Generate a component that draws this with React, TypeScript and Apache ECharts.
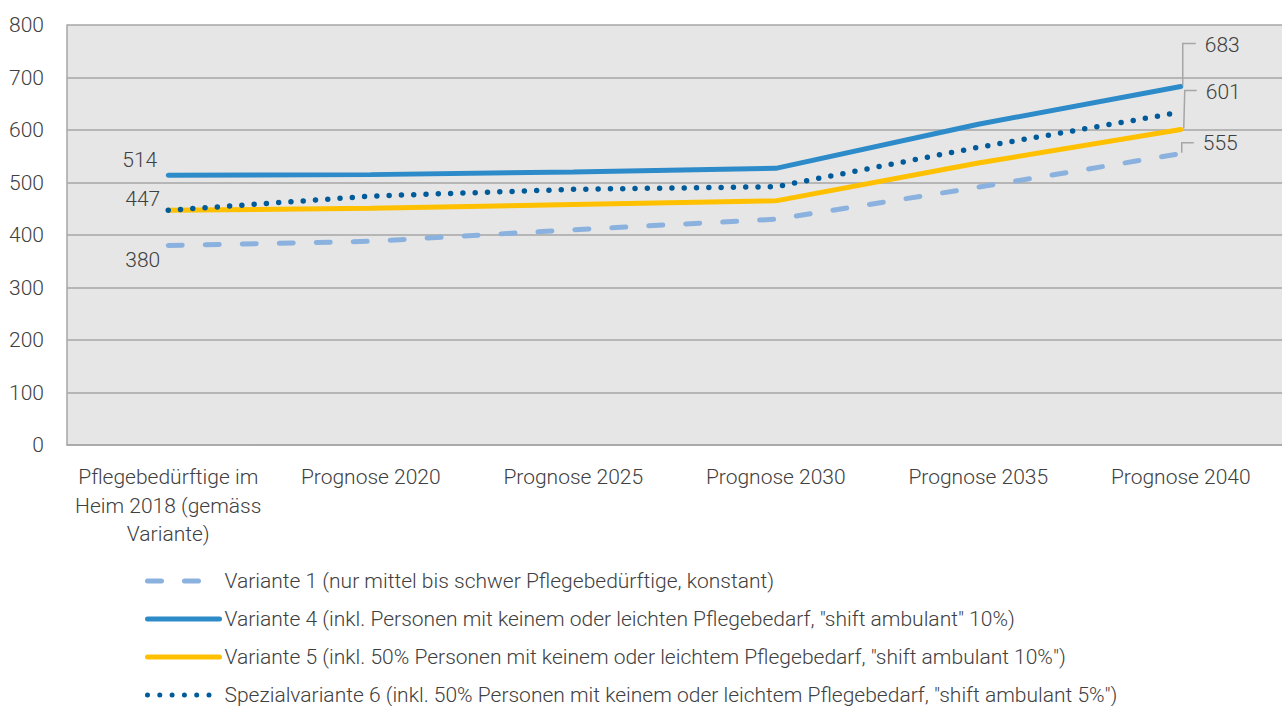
import React, { useEffect, useRef } from "react";
import * as echarts from "echarts";

const categories = [
  "Pflegebedürftige im\nHeim 2018 (gemäss\nVariante)",
  "Prognose 2020",
  "Prognose 2025",
  "Prognose 2030",
  "Prognose 2035",
  "Prognose 2040",
];

const seriesNames = [
  "Variante 1 (nur mittel bis schwer Pflegebedürftige, konstant)",
  'Variante 4 (inkl. Personen mit keinem oder leichten Pflegebedarf, "shift ambulant" 10%)',
  'Variante 5 (inkl. 50% Personen mit keinem oder leichtem Pflegebedarf, "shift ambulant 10%")',
  'Spezialvariante 6 (inkl. 50% Personen mit keinem oder leichtem Pflegebedarf, "shift ambulant 5%")',
];

const variante1 = [380, 388, 410, 430, 491, 555];
const variante4 = [514, 515, 520, 527, 611, 683];
const variante5 = [447, 451, 458, 465, 537, 601];
const spezial6 = [447, 474, 487, 492, 567, 634];

const yMin = 0;
const yMax = 800;
const yInterval = 100;

const FONT = "Roboto";
const FS = 21;
const TEXT_COLOR = "#404040";
const GRID_COLOR = "#a6a6a6";
const LEGEND_ROW_CENTERS = [581, 619, 657, 695];

export default function App() {
  const ref = useRef<HTMLDivElement>(null);

  useEffect(() => {
    document.body.style.margin = "0";
    if (!ref.current) return;
    const chart = echarts.init(ref.current, undefined, { renderer: "svg" });

    const legends = seriesNames.map((name, i) => ({
      orient: "vertical",
      left: 145,
      top: LEGEND_ROW_CENTERS[i] - 10.5,
      padding: 0,
      itemWidth: 72,
      itemHeight: 18,
      itemStyle: { opacity: 0, borderWidth: 0 },
      lineStyle: { width: 5 },
      textStyle: {
        fontFamily: FONT,
        fontWeight: 300,
        fontSize: FS,
        color: TEXT_COLOR,
      },
      data: [name],
    }));

    const option: any = {
      animation: false,
      textStyle: { fontFamily: FONT, fontWeight: 300 },
      grid: {
        left: 67,
        right: 0,
        top: 25,
        bottom: 261,
        show: true,
        backgroundColor: "#e6e6e6",
        borderWidth: 0,
        outerBoundsMode: "none",
      },
      legend: legends,
      xAxis: {
        type: "category",
        data: categories,
        boundaryGap: true,
        axisLine: { show: true, lineStyle: { color: GRID_COLOR, width: 1.5 } },
        axisTick: { show: false },
        axisLabel: {
          fontFamily: FONT,
          fontWeight: 300,
          fontSize: FS,
          lineHeight: 28.5,
          color: TEXT_COLOR,
          margin: 18,
          interval: 0,
        },
      },
      yAxis: {
        type: "value",
        min: yMin,
        max: yMax,
        interval: yInterval,
        axisLine: { show: true, lineStyle: { color: GRID_COLOR, width: 1.5 } },
        axisTick: { show: false },
        splitLine: { show: true, lineStyle: { color: GRID_COLOR, width: 1.5 } },
        axisLabel: {
          fontFamily: FONT,
          fontWeight: 300,
          fontSize: FS,
          color: TEXT_COLOR,
          margin: 23,
        },
      },
      series: [
        {
          name: seriesNames[0],
          type: "line",
          data: variante1,
          symbol: "none",
          lineStyle: { color: "#8bb2de", width: 5, type: [14, 23], cap: "round" },
          itemStyle: { color: "#8bb2de" },
        },
        {
          name: seriesNames[1],
          type: "line",
          data: variante4,
          symbol: "none",
          lineStyle: { color: "#2e8bc9", width: 5, cap: "round" },
          itemStyle: { color: "#2e8bc9" },
        },
        {
          name: seriesNames[2],
          type: "line",
          data: variante5,
          symbol: "none",
          lineStyle: { color: "#ffc000", width: 5, cap: "round" },
          itemStyle: { color: "#ffc000" },
        },
        {
          name: seriesNames[3],
          type: "line",
          data: spezial6,
          symbol: "none",
          lineStyle: { color: "#005b9a", width: 5.5, type: [0, 12.3], cap: "round" },
          itemStyle: { color: "#005b9a" },
        },
      ],
    };

    chart.setOption(option);

    const px = (i: number, v: number) =>
      chart.convertToPixel({ gridIndex: 0 }, [i, v]) as number[];

    const last = categories.length - 1;
    const labelStyle = (text: string, x: number, y: number, align: string) => ({
      type: "text",
      z: 100,
      x,
      y,
      style: {
        text,
        fontFamily: FONT,
        fontWeight: 300,
        fontSize: FS,
        fill: TEXT_COLOR,
        align,
        verticalAlign: "middle",
      },
    });
    const leader = (pts: number[][]) => ({
      type: "polyline",
      z: 100,
      shape: { points: pts },
      style: { stroke: GRID_COLOR, lineWidth: 1.5, fill: "none" },
    });

    const s4 = px(0, variante4[0]);
    const s5 = px(0, variante5[0]);
    const s1 = px(0, variante1[0]);
    const e4 = px(last, variante4[last]);
    const e5 = px(last, variante5[last]);
    const e1 = px(last, variante1[last]);

    const graphic: any[] = [
      labelStyle(String(variante4[0]), s4[0] - 11, s4[1] - 15, "right"),
      labelStyle(String(variante5[0]), s5[0] - 8, s5[1] - 11, "right"),
      labelStyle(String(variante1[0]), s1[0] - 8, s1[1] + 14, "right"),
      leader([
        [e4[0] + 2, e4[1] - 1],
        [e4[0] + 2, e4[1] - 43],
        [e4[0] + 15, e4[1] - 43],
      ]),
      labelStyle(String(variante4[last]), e4[0] + 24, e4[1] - 41, "left"),
      leader([
        [e5[0] + 3, e5[1] - 1],
        [e5[0] + 4, e5[1] - 39],
        [e5[0] + 16, e5[1] - 39],
      ]),
      labelStyle(String(variante5[last]), e5[0] + 25, e5[1] - 37, "left"),
      leader([
        [e1[0] + 1, e1[1] - 1],
        [e1[0] + 1, e1[1] - 11],
        [e1[0] + 13, e1[1] - 11],
      ]),
      labelStyle(String(variante1[last]), e1[0] + 22, e1[1] - 11, "left"),
    ];

    chart.setOption({ graphic });

    return () => chart.dispose();
  }, []);

  return <div ref={ref} style={{ width: 1282, height: 706 }} />;
}
